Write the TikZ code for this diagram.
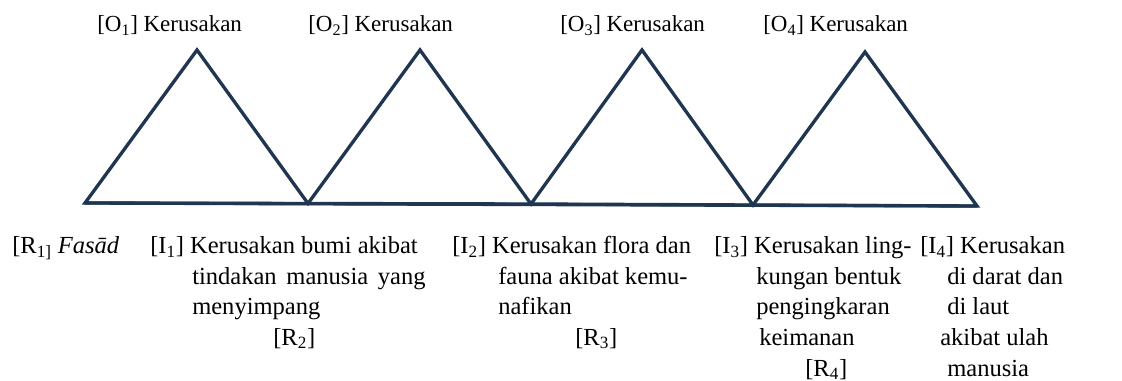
\documentclass[tikz,border=0pt]{standalone}
\usepackage{fontspec}
\setmainfont{Liberation Serif}
\definecolor{navy}{HTML}{1F3550}
\begin{document}
\begin{tikzpicture}[x=0.75pt,y=-0.75pt,
  lbl/.style={anchor=base west, inner sep=0pt, font=\fontsize{17.25}{20}\selectfont},
  blbl/.style={anchor=base west, inner sep=0pt, font=\fontsize{18.4}{22}\selectfont},
  edge/.style={draw=navy, line width=2.5pt, line join=miter}]
\useasboundingbox (0,0) rectangle (1122,381);
% base and apex points
\coordinate (b0) at (85,203);
\coordinate (b1) at (308,203.5);
\coordinate (b2) at (531,204);
\coordinate (b3) at (753,205);
\coordinate (b4) at (977,206);
\coordinate (a1) at (197,50);
\coordinate (a2) at (420,50);
\coordinate (a3) at (642,50);
\coordinate (a4) at (865,52);
\draw[edge] (b0) -- (a1) -- (b1) -- (a2) -- (b2) -- (a3) -- (b3) -- (a4) -- (b4) -- cycle;
\draw[edge] (b0) -- (b1) -- (b2) -- (b3) -- (b4);
% top labels
\node[lbl] (o1) at (97,32) {[O\textsubscript{1}] Kerusakan};
\node[lbl] (o2) at (308,32) {[O\textsubscript{2}] Kerusakan};
\node[lbl] (o3) at (560,32) {[O\textsubscript{3}] Kerusakan};
\node[lbl] (o4) at (763,32) {[O\textsubscript{4}] Kerusakan};
% bottom labels
\node[blbl] (r1) at (12,254) {[R\textsubscript{1]} \textit{Fasād}};
\node[blbl] (i1a) at (150,254) {[I\textsubscript{1}] Kerusakan bumi akibat};
\node[blbl] (i1b) at (192,284.5) {\makebox[175pt][s]{tindakan manusia yang}};
\node[blbl] (i1c) at (192,315) {menyimpang};
\node[blbl] (r2) at (273,345.5) {[R\textsubscript{2}]};
\node[blbl] (i2a) at (452,254) {[I\textsubscript{2}] Kerusakan flora dan};
\node[blbl] (i2b) at (498,284.5) {fauna akibat kemu-};
\node[blbl] (i2c) at (498,315) {nafikan};
\node[blbl] (r3) at (575,345.5) {[R\textsubscript{3}]};
\node[blbl] (i3a) at (714,254) {[I\textsubscript{3}] Kerusakan ling-};
\node[blbl] (i3b) at (756,284.5) {kungan bentuk};
\node[blbl] (i3c) at (756,315) {pengingkaran};
\node[blbl] (i3d) at (759,345.5) {keimanan};
\node[blbl] (r4) at (805,376) {[R\textsubscript{4}]};
\node[blbl] (i4a) at (920,254) {[I\textsubscript{4}] Kerusakan};
\node[blbl] (i4b) at (947,284.5) {di darat dan};
\node[blbl] (i4c) at (947,315) {di laut};
\node[blbl] (i4d) at (940,345.5) {akibat ulah};
\node[blbl] (i4e) at (947,376) {manusia};
\end{tikzpicture}
\end{document}
